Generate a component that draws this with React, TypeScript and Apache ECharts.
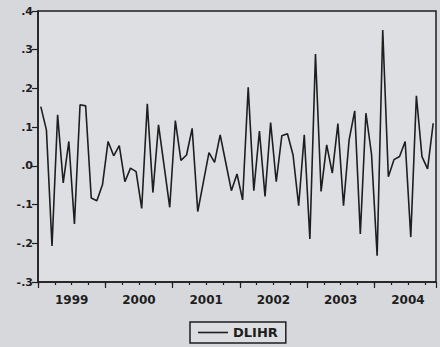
import React, { useEffect, useRef } from "react";
import * as echarts from "echarts";

const seriesName = "DLIHR";
const startYear = 1999;
const yearLabels = ["1999", "2000", "2001", "2002", "2003", "2004"];
// Monthly observations 1999M01 .. 2004M11
const dlihr = [
  0.153, 0.093, -0.207, 0.132, -0.044, 0.063, -0.15, 0.158, 0.155, -0.083, -0.09, -0.049,
  0.063, 0.026, 0.052, -0.041, -0.006, -0.015, -0.11, 0.16, -0.069, 0.106, 0.0, -0.107,
  0.117, 0.014, 0.028, 0.097, -0.118, -0.042, 0.034, 0.009, 0.08, 0.008, -0.064, -0.021,
  -0.088, 0.203, -0.064, 0.09, -0.079, 0.112, -0.041, 0.078, 0.083, 0.028, -0.103, 0.08,
  -0.189, 0.289, -0.066, 0.054, -0.019, 0.109, -0.103, 0.067, 0.142, -0.176, 0.136, 0.03,
  -0.232, 0.351, -0.028, 0.016, 0.024, 0.063, -0.184, 0.181, 0.024, -0.008, 0.11,
];

const FONT = "DejaVu Sans";
const INK = "#1e1e1e";

export default function App() {
  const ref = useRef<HTMLDivElement>(null);
  useEffect(() => {
    if (!ref.current) return;
    const chart = echarts.init(ref.current, null, { renderer: "svg" });
    const n = dlihr.length;
    const data = dlihr.map((v, i) => [i + 0.5, v]);
    chart.setOption({
      animation: false,
      backgroundColor: "#d7d8dc",
      grid: {
        left: 38,
        right: 4,
        top: 11,
        bottom: 65,
        show: true,
        backgroundColor: "#dedfe3",
        borderColor: INK,
        borderWidth: 1.5,
      },
      legend: {
        data: [{ name: seriesName, icon: "rect" }],
        left: 190,
        top: 322,
        padding: [4, 8],
        itemWidth: 30,
        itemHeight: 1.6,
        borderColor: INK,
        borderWidth: 1.5,
        backgroundColor: "#dcdde0",
        textStyle: { fontFamily: FONT, fontWeight: "bold", fontSize: 13, color: INK },
      },
      xAxis: [
        {
          type: "value",
          min: 0,
          max: n,
          interval: 3,
          splitLine: { show: false },
          axisLine: { show: true, onZero: false, lineStyle: { color: INK, width: 1.5 } },
          axisTick: { show: true, length: 3, lineStyle: { color: INK, width: 1.2 } },
          axisLabel: {
            margin: 12,
            fontFamily: FONT,
            fontWeight: "bold",
            fontSize: 12,
            color: INK,
            showMinLabel: true,
            showMaxLabel: false,
            formatter: (v: number) => {
              const r = Math.round(v);
              if (r % 12 === 6) {
                const idx = (r - 6) / 12;
                return yearLabels[idx] ?? String(startYear + idx);
              }
              return "";
            },
          },
        },
        {
          type: "value",
          min: 0,
          max: n,
          interval: 12,
          position: "bottom",
          splitLine: { show: false },
          axisLine: { show: false, onZero: false },
          axisTick: { show: true, length: 6, lineStyle: { color: INK, width: 1.2 } },
          axisLabel: { show: false },
        },
      ],
      yAxis: {
        type: "value",
        min: -0.3,
        max: 0.4,
        interval: 0.1,
        splitLine: { show: false },
        axisLine: { show: true, onZero: false, lineStyle: { color: INK, width: 1.5 } },
        axisTick: { show: true, length: 6, lineStyle: { color: INK, width: 1.2 } },
        axisLabel: {
          margin: 5,
          fontFamily: FONT,
          fontWeight: "bold",
          fontSize: 11,
          color: INK,
          formatter: (v: number) => v.toFixed(1).replace(/^(-?)0\./, "$1."),
        },
      },
      series: [
        {
          name: seriesName,
          type: "line",
          xAxisIndex: 0,
          data,
          symbol: "none",
          lineStyle: { color: INK, width: 1.6 },
          itemStyle: { color: INK },
        },
      ],
    });
    return () => chart.dispose();
  }, []);
  return (
    <div
      ref={ref}
      style={{ position: "fixed", left: 0, top: 0, width: 440, height: 347 }}
    />
  );
}
